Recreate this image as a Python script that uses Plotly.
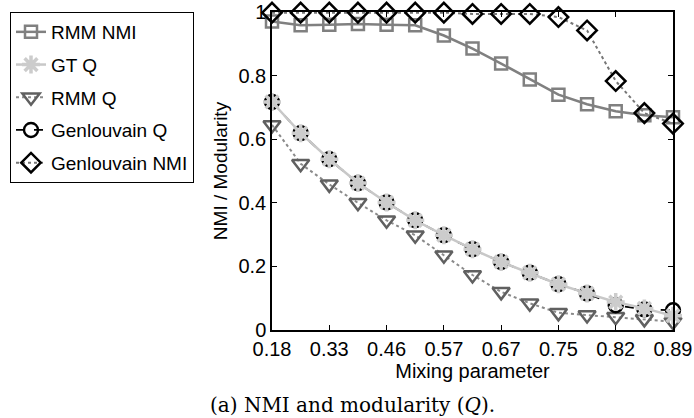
import plotly.graph_objects as go

# ---- data ----
x_tick_labels = ["0.18", "0.33", "0.46", "0.57", "0.67", "0.75", "0.82", "0.89"]
point_index = [0, 1, 2, 3, 4, 5, 6, 7, 8, 9, 10, 11, 12, 13, 14]
y_tick_values = [0, 0.2, 0.4, 0.6, 0.8, 1]
y_tick_labels = ["0", "0.2", "0.4", "0.6", "0.8", "1"]

rmm_nmi = [0.970, 0.958, 0.960, 0.962, 0.960, 0.958, 0.926, 0.885, 0.838, 0.788,
           0.740, 0.710, 0.688, 0.675, 0.669]
gt_q = [0.717, 0.619, 0.537, 0.462, 0.401, 0.345, 0.298, 0.254, 0.214, 0.180,
        0.144, 0.115, 0.088, 0.068, 0.045]
rmm_q = [0.645, 0.523, 0.458, 0.400, 0.345, 0.298, 0.235, 0.173, 0.120, 0.084,
         0.054, 0.047, 0.042, 0.035, 0.026]
genlouvain_q = [0.717, 0.619, 0.537, 0.462, 0.401, 0.345, 0.298, 0.254, 0.214, 0.180,
                0.144, 0.115, 0.078, 0.065, 0.062]
genlouvain_nmi = [0.998, 0.998, 0.998, 0.998, 0.998, 0.998, 0.998, 0.994, 0.994, 0.994,
                  0.984, 0.942, 0.783, 0.682, 0.649]

FONT = "Liberation Sans, Arial, sans-serif"

fig = go.Figure()

# drawing order differs from legend order (legendrank sets the legend order)
fig.add_trace(go.Scatter(
    x=point_index, y=rmm_nmi, name="RMM NMI", legendgroup="a", legendrank=1,
    mode="lines+markers",
    line=dict(color="#808080", width=2.5, dash="solid"),
    marker=dict(symbol="square-open", size=12, color="#808080",
                line=dict(width=2.5, color="#808080")),
    cliponaxis=False))

fig.add_trace(go.Scatter(
    x=point_index, y=rmm_q, name="RMM Q", legendgroup="c", legendrank=3,
    mode="lines+markers",
    line=dict(color="#8a8a8a", width=2, dash="dot"),
    marker=dict(symbol="triangle-down-open", size=15, color="#606060",
                line=dict(width=2.5, color="#606060")),
    cliponaxis=False))

fig.add_trace(go.Scatter(
    x=point_index, y=genlouvain_q, name="Genlouvain Q", legendgroup="d", legendrank=4,
    mode="lines+markers",
    line=dict(color="#000000", width=1.8, dash="dash"),
    marker=dict(symbol="circle-open", size=14, color="#000000",
                line=dict(width=2.4, color="#000000")),
    cliponaxis=False))

fig.add_trace(go.Scatter(
    x=point_index, y=gt_q, name="GT Q", legendgroup="b", legendrank=2,
    mode="lines+markers",
    line=dict(color="#c8c8c8", width=2.5, dash="solid"),
    marker=dict(symbol="asterisk-open", size=15, color="#cccccc",
                line=dict(width=3.5, color="#cccccc")),
    cliponaxis=False))

fig.add_trace(go.Scatter(
    x=point_index, y=genlouvain_nmi, name="Genlouvain NMI", legendgroup="e", legendrank=5,
    mode="lines+markers",
    line=dict(color="#777777", width=2, dash="dot"),
    marker=dict(symbol="diamond-open", size=15, color="#000000",
                line=dict(width=2.5, color="#000000")),
    cliponaxis=False))

W, H = 694, 418
plot_left, plot_right, plot_top, plot_bottom = 272, 673, 12, 330
pw = plot_right - plot_left
ph = plot_bottom - plot_top

fig.update_layout(
    width=W, height=H,
    margin=dict(l=plot_left, r=W - plot_right, t=plot_top, b=H - plot_bottom,
                pad=0, autoexpand=False),
    paper_bgcolor="white", plot_bgcolor="white",
    font=dict(family=FONT, size=20, color="black"),
    showlegend=True,
    legend=dict(
        x=(10 - plot_left) / pw, y=1, xanchor="left", yanchor="top",
        bgcolor="white", bordercolor="black", borderwidth=1,
        font=dict(family=FONT, size=19, color="black"),
        traceorder="grouped", tracegroupgap=5, itemwidth=30,
    ),
    xaxis=dict(
        range=[0, 14], tickmode="array",
        tickvals=point_index[::2], ticktext=x_tick_labels,
        ticks="inside", ticklen=5, tickwidth=1.2, tickcolor="black",
        showline=True, linecolor="black", linewidth=1.5, mirror="ticks",
        showgrid=False, zeroline=False,
        tickfont=dict(family=FONT, size=20),
        title=dict(text="Mixing parameter", font=dict(family=FONT, size=20), standoff=0),
    ),
    yaxis=dict(
        range=[0, 1], tickmode="array",
        tickvals=y_tick_values, ticktext=y_tick_labels,
        ticks="inside", ticklen=5, tickwidth=1.2, tickcolor="black",
        showline=True, linecolor="black", linewidth=1.5, mirror="ticks",
        showgrid=False, zeroline=False,
        tickfont=dict(family=FONT, size=20),
        title=dict(text="NMI / Modularity", font=dict(family=FONT, size=19), standoff=6),
    ),
)

fig.add_annotation(
    text="(a) NMI and modularity (<i>Q</i>).",
    xref="paper", yref="paper",
    x=(352 - plot_left) / pw, y=(plot_bottom - 405) / ph,
    xanchor="center", yanchor="middle", showarrow=False,
    font=dict(family="DejaVu Serif, serif", size=20, color="black"),
)

# remove the default 8px page margin so the figure fills the window exactly
fig.write_html(
    "out.html",
    config={"displayModeBar": False},
    post_script="document.body.style.margin='0';document.body.style.overflow='hidden';",
)
